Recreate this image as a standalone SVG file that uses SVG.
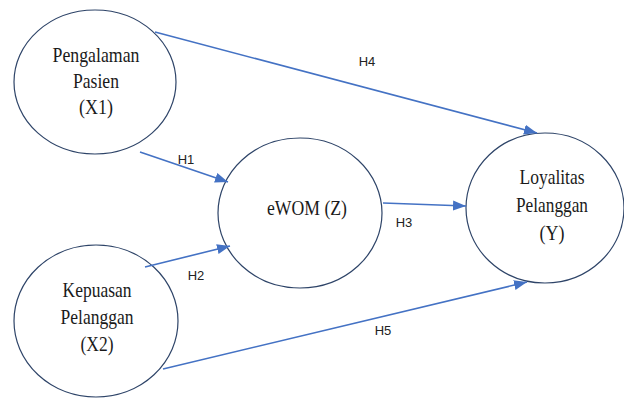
<svg xmlns="http://www.w3.org/2000/svg" width="624" height="398" viewBox="0 0 624 398">
<style>
.node ellipse{fill:#fff;stroke:#2E4468;stroke-width:1.2}
.node text{font-family:"Liberation Serif","Times New Roman",serif;font-size:22px;fill:#1a1a1a;text-anchor:middle}
.conn line{stroke:#4472C4;stroke-width:1.6;fill:none}
.lbl{font-family:"Liberation Sans",Arial,sans-serif;font-size:13px;fill:#222;text-anchor:middle}
</style>
<defs>
<marker id="ah" markerUnits="userSpaceOnUse" markerWidth="14" markerHeight="12" refX="13" refY="5" orient="auto" viewBox="0 0 14 10">
<path d="M0,0 L13,5 L0,10 Z" fill="#4472C4"/>
</marker>
</defs>
<rect width="624" height="398" fill="#fff"/>
<g id="x1" class="node">
<ellipse cx="95" cy="82" rx="81" ry="72"/>
<text x="96" y="62" textLength="87" lengthAdjust="spacingAndGlyphs">Pengalaman</text>
<text x="96" y="88" textLength="46" lengthAdjust="spacingAndGlyphs">Pasien</text>
<text x="96" y="114" textLength="34" lengthAdjust="spacingAndGlyphs">(X1)</text>
</g>
<g id="x2" class="node">
<ellipse cx="96" cy="321" rx="82" ry="76"/>
<text x="97" y="297" textLength="69" lengthAdjust="spacingAndGlyphs">Kepuasan</text>
<text x="97" y="324" textLength="73" lengthAdjust="spacingAndGlyphs">Pelanggan</text>
<text x="97" y="351" textLength="33" lengthAdjust="spacingAndGlyphs">(X2)</text>
</g>
<g id="z" class="node">
<ellipse cx="300" cy="213" rx="82" ry="75"/>
<text x="307" y="215" textLength="80" lengthAdjust="spacingAndGlyphs">eWOM (Z)</text>
</g>
<g id="y" class="node">
<ellipse cx="545" cy="208" rx="79" ry="75"/>
<text x="552" y="184" textLength="65" lengthAdjust="spacingAndGlyphs">Loyalitas</text>
<text x="552" y="212" textLength="72" lengthAdjust="spacingAndGlyphs">Pelanggan</text>
<text x="552" y="240" textLength="25" lengthAdjust="spacingAndGlyphs">(Y)</text>
</g>
<g id="connectors" class="conn">
<line x1="155" y1="32" x2="537" y2="133" marker-end="url(#ah)"/>
<line x1="140" y1="152" x2="228" y2="182" marker-end="url(#ah)"/>
<line x1="145" y1="267" x2="230" y2="246" marker-end="url(#ah)"/>
<line x1="383" y1="203" x2="466" y2="206" marker-end="url(#ah)"/>
<line x1="163" y1="369" x2="527" y2="282" marker-end="url(#ah)"/>
</g>
<g id="labels">
<text class="lbl" x="367" y="66">H4</text>
<text class="lbl" x="186" y="164">H1</text>
<text class="lbl" x="196" y="280">H2</text>
<text class="lbl" x="404" y="227">H3</text>
<text class="lbl" x="383" y="335">H5</text>
</g>
</svg>
